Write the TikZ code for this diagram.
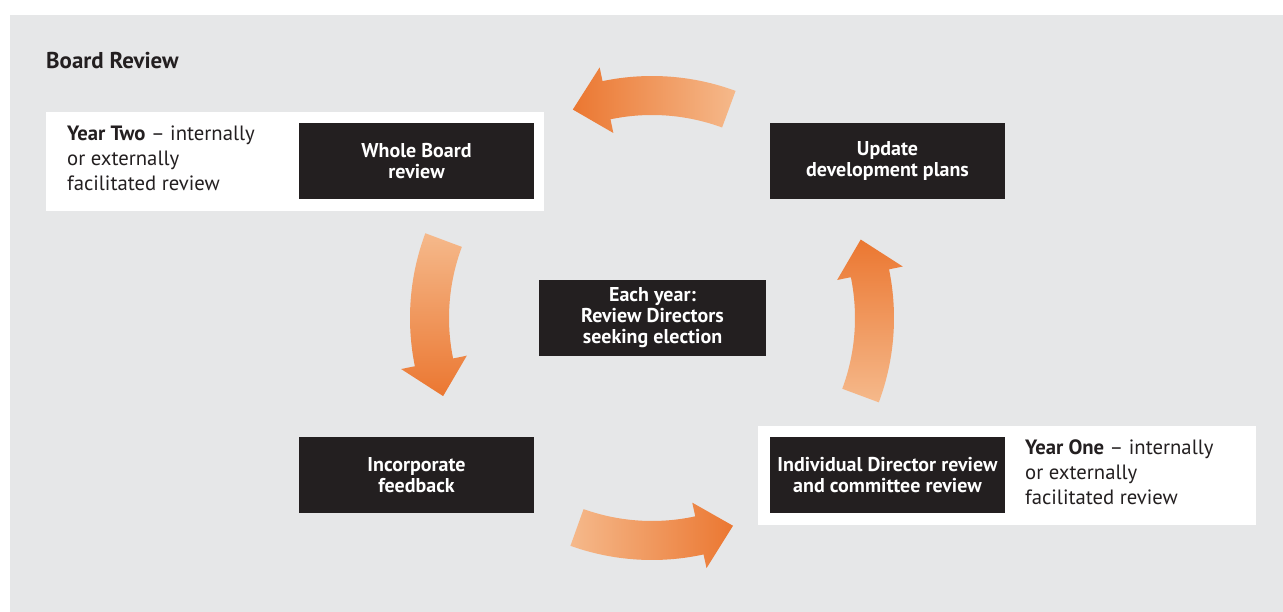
\documentclass[tikz,border=0pt]{standalone}
\usepackage{fontspec}
\setmainfont{PT Sans}
\definecolor{bggrey}{HTML}{E6E7E8}
\definecolor{boxblack}{HTML}{231F20}
\definecolor{txtgrey}{HTML}{231F20}
\definecolor{orgdark}{HTML}{EB7731}
\definecolor{orglight}{HTML}{F5B98B}
\tikzset{
  blackbox/.style={fill=boxblack, text=white, font=\bfseries\fontsize{20}{21}\selectfont,
    align=center, minimum width=235pt, minimum height=76pt, inner sep=0pt},
  whitebox/.style={fill=white, minimum width=498pt, minimum height=99pt, inner sep=0pt},
  sidetext/.style={text=txtgrey, font=\fontsize{20.7}{25}\selectfont, align=left, anchor=north west, inner sep=0pt},
}
\newcommand{\cyclearrow}[2]{%
  \shade[#2] ({#1}:203pt) arc[start angle={#1}, end angle={#1+32}, radius=203pt]
    -- ({#1+32}:189pt) -- ({#1+41}:223pt) -- ({#1+32}:256pt) -- ({#1+32}:242pt)
    arc[start angle={#1+32}, end angle={#1}, radius=242pt] -- cycle;}
\begin{document}
\begin{tikzpicture}[x=1pt,y=1pt]
\useasboundingbox (0,0) rectangle (1283,-612);
\fill[bggrey] (10,-15) rectangle (1283,-612);
\node[anchor=base west, inner sep=0pt, font=\bfseries\fontsize{22.9}{26}\selectfont, text=txtgrey] (title) at (46,-69) {Board Review};
% white boxes
\node[whitebox, anchor=north west] (wl) at (46,-112) {};
\node[whitebox, anchor=north west] (wr) at (758,-426) {};
% black boxes
\node[blackbox] (whole) at (416.5,-161) {Whole Board\\review};
\node[blackbox] (update) at (887.5,-161) {Update\\development plans};
\node[blackbox, minimum width=227pt] (each) at (652.5,-318) {Each year:\\Review Directors\\seeking election};
\node[blackbox] (incorp) at (416.5,-475) {Incorporate\\feedback};
\node[blackbox] (indiv) at (887.5,-475) {Individual Director review\\and committee review};
% side texts
\node[sidetext] (ytwo) at (67,-126) {\textbf{Year Two} -- internally\\or externally\\facilitated review};
\node[sidetext] (yone) at (1025,-440) {\textbf{Year One} -- internally\\or externally\\facilitated review};
% arrows
\begin{scope}[shift={(652,-318)}]
\cyclearrow{69.8}{left color=orgdark, right color=orglight}
\cyclearrow{159.5}{top color=orglight, bottom color=orgdark}
\cyclearrow{250.3}{left color=orglight, right color=orgdark}
\cyclearrow{-20.4}{top color=orgdark, bottom color=orglight}
\end{scope}
\end{tikzpicture}
\end{document}
